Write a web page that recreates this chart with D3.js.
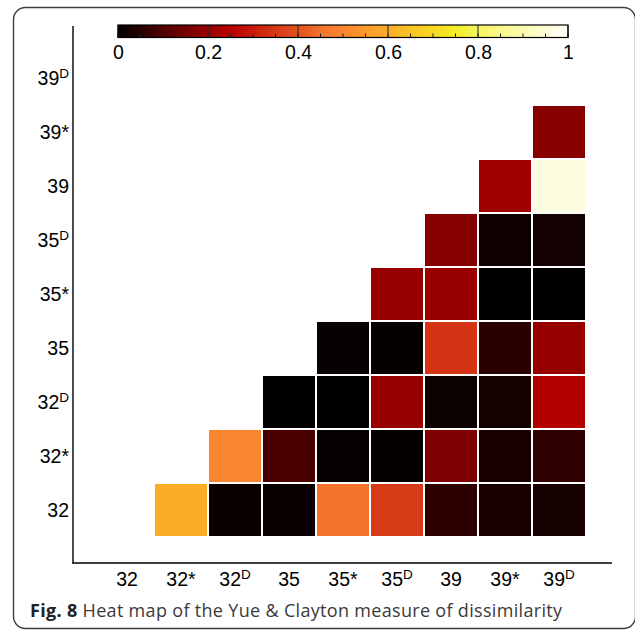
<!DOCTYPE html>
<html>
<head>
<meta charset="utf-8">
<script src="https://cdn.jsdelivr.net/npm/d3@7"></script>
<style>
  html, body { margin: 0; padding: 0; background: #fff; }
  svg { display: block; }
</style>
</head>
<body>
<svg id="chart" width="635" height="630"></svg>
<script>
// ---------------- data ----------------
const categories = ["32", "32*", "32D", "35", "35*", "35D", "39", "39*", "39D"];
// each row lists values for the columns to the right of the diagonal
const row32  = [0.60, 0.014, 0.014, 0.45, 0.35, 0.055, 0.033, 0.029];
const row32s = [0.50, 0.093, 0.0075, 0.005, 0.164, 0.030, 0.058];
const row32D = [0.0, 0.0, 0.20, 0.015, 0.026, 0.24];
const row35  = [0.0075, 0.006, 0.34, 0.053, 0.20];
const row35s = [0.20, 0.20, 0.0, 0.0];
const row35D = [0.176, 0.019, 0.024];
const row39  = [0.215, 0.96];
const row39s = [0.176];
const rows = [row32, row32s, row32D, row35, row35s, row35D, row39, row39s, []];
const colorbarTicks = [0, 0.2, 0.4, 0.6, 0.8, 1];
const colorbarMinor = d3.range(0, 1.0001, 0.05);
const captionBold = "Fig. 8";
const captionText = " Heat map of the Yue & Clayton measure of dissimilarity";

// colour map (black - red - orange - yellow - white)
const cmapDomain = [0, 0.10, 0.20, 0.25, 0.30, 0.35, 0.40, 0.45, 0.50, 0.55, 0.60, 0.70, 0.75, 0.80, 0.90, 1.0];
const cmapRange  = ["#000000", "#500000", "#980000", "#b80000", "#c81a0a", "#d63a16", "#e35020", "#f2732c",
                    "#fc8530", "#fc9a2c", "#fbad28", "#f8d820", "#f3ee28", "#f6f460", "#fbfbb0", "#ffffff"];

// ---------------- build ----------------
const cells = [];
rows.forEach((vals, r) => {
  vals.forEach((v, k) => {
    cells.push({ row: categories[r], col: categories[r + 1 + k], value: v });
  });
});

const svg = d3.select("#chart");
const color = d3.scaleLinear().domain(cmapDomain).range(cmapRange).interpolate(d3.interpolateRgb).clamp(true);

const x = d3.scaleBand().domain(categories).range([100, 586]).paddingInner(2 / 54).paddingOuter(1 / 54);
const y = d3.scaleBand().domain(categories).range([537, 51]).paddingInner(2 / 54).paddingOuter(1 / 54);

const FONT = "'Liberation Sans', Arial, sans-serif";

// frame
svg.append("rect")
  .attr("x", 13.5).attr("y", 7.5).attr("width", 622).attr("height", 621)
  .attr("rx", 12).attr("ry", 12)
  .attr("fill", "none").attr("stroke", "#3c3c3c").attr("stroke-width", 1.4);

// cells
svg.append("g").selectAll("rect").data(cells).join("rect")
  .attr("x", d => x(d.col))
  .attr("y", d => y(d.row))
  .attr("width", x.bandwidth())
  .attr("height", y.bandwidth())
  .attr("fill", d => color(d.value));

// axis lines
svg.append("line").attr("x1", 73).attr("x2", 73).attr("y1", 26).attr("y2", 563.5)
  .attr("stroke", "#000").attr("stroke-width", 1.4);
svg.append("line").attr("x1", 72.3).attr("x2", 612).attr("y1", 563).attr("y2", 563)
  .attr("stroke", "#000").attr("stroke-width", 1.4);

function labelWithSup(sel) {
  sel.each(function(d) {
    const t = d3.select(this);
    t.text(null);
    if (d.endsWith("D")) {
      t.append("tspan").text(d.slice(0, -1));
      t.append("tspan").text("D").attr("font-size", 13.5).attr("dy", -7);
    } else {
      t.append("tspan").text(d);
    }
  });
}

// x axis labels
const xAxis = svg.append("g").attr("transform", "translate(0,563)")
  .call(d3.axisBottom(x).tickSize(0).tickPadding(0));
xAxis.select(".domain").remove();
xAxis.selectAll(".tick text")
  .attr("y", 23).attr("dy", null)
  .attr("font-family", FONT).attr("font-size", 19.5).attr("fill", "#000")
  .call(labelWithSup);

// y axis labels
const yAxis = svg.append("g").attr("transform", "translate(73,0)")
  .call(d3.axisLeft(y).tickSize(0).tickPadding(0));
yAxis.select(".domain").remove();
yAxis.selectAll(".tick text")
  .attr("x", -4).attr("dy", "0.36em")
  .attr("font-family", FONT).attr("font-size", 19.5).attr("fill", "#000")
  .call(labelWithSup);

// colour bar
const cbx = d3.scaleLinear().domain([0, 1]).range([118, 568]);
const defs = svg.append("defs");
const grad = defs.append("linearGradient").attr("id", "cbgrad").attr("x1", "0%").attr("x2", "100%").attr("y1", "0%").attr("y2", "0%");
d3.range(0, 1.0001, 0.01).forEach(t => {
  grad.append("stop").attr("offset", (t * 100) + "%").attr("stop-color", color(t));
});
const cbTop = 25, cbH = 12.5;
svg.append("rect").attr("x", cbx(0)).attr("y", cbTop).attr("width", cbx(1) - cbx(0)).attr("height", cbH)
  .attr("fill", "url(#cbgrad)");
const cbg = svg.append("g");
cbg.selectAll("line.minor").data(colorbarMinor).join("line").attr("class", "minor")
  .attr("x1", d => cbx(d)).attr("x2", d => cbx(d))
  .attr("y1", cbTop + cbH).attr("y2", cbTop + cbH - 4)
  .attr("stroke", "#222").attr("stroke-width", 1);
cbg.selectAll("line.major").data(colorbarTicks).join("line").attr("class", "major")
  .attr("x1", d => cbx(d)).attr("x2", d => cbx(d))
  .attr("y1", cbTop).attr("y2", cbTop + cbH)
  .attr("stroke", "#222").attr("stroke-width", 1);
svg.append("rect").attr("x", cbx(0)).attr("y", cbTop).attr("width", cbx(1) - cbx(0)).attr("height", cbH)
  .attr("fill", "none").attr("stroke", "#000").attr("stroke-width", 1.2);
const cbAxis = svg.append("g").attr("transform", `translate(0,${cbTop + cbH})`)
  .call(d3.axisBottom(cbx).tickValues(colorbarTicks).tickSize(0).tickPadding(0).tickFormat(d3.format("~g")));
cbAxis.select(".domain").remove();
cbAxis.selectAll(".tick text")
  .attr("y", 21.5).attr("dy", null)
  .attr("font-family", FONT).attr("font-size", 19.5).attr("fill", "#000");

// caption
const cap = svg.append("text").attr("x", 30).attr("y", 617)
  .attr("font-family", "'Open Sans', sans-serif").attr("font-size", 18).attr("fill", "#3a3a3a")
  .attr("textLength", 532).attr("lengthAdjust", "spacing");
cap.append("tspan").text(captionBold).attr("font-weight", "bold").attr("fill", "#222");
cap.append("tspan").text(captionText);
</script>
</body>
</html>
